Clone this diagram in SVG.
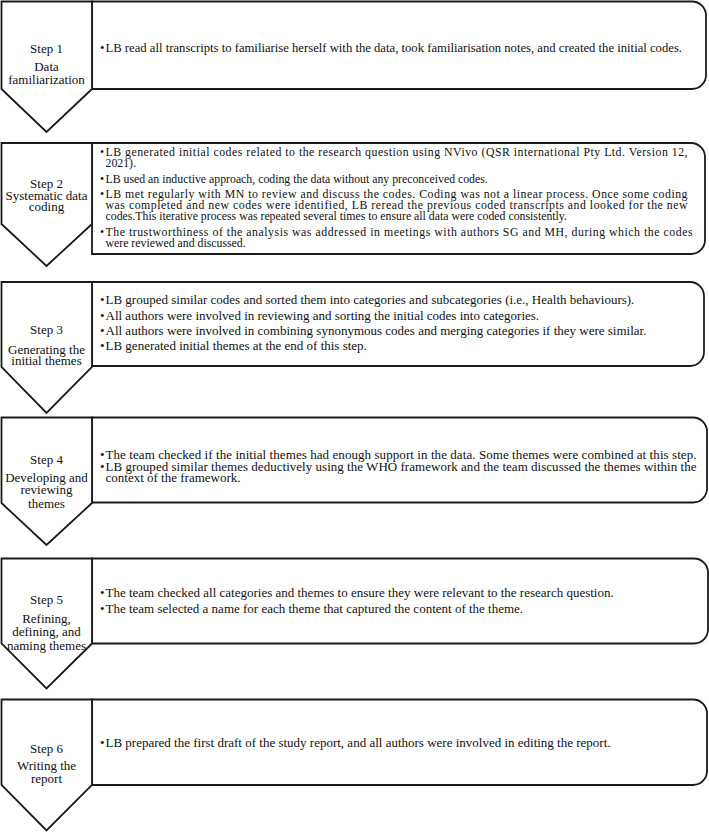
<svg xmlns="http://www.w3.org/2000/svg" width="709" height="832" viewBox="0 0 709 832">
<style>
  .shape { fill: #ffffff; stroke: #1a1a1a; stroke-width: 1.8; stroke-linejoin: miter; }
  .box { fill: #ffffff; stroke: #1a1a1a; stroke-width: 1.8; }
  .lbl { font-family: "Liberation Serif", "Times New Roman", serif; font-size: 13px; fill: #111; text-anchor: middle; }
  .txt { font-family: "Liberation Serif", "Times New Roman", serif; font-size: 13px; fill: #111; }
  .sm { font-size: 11.8px; }
</style>
<rect width="709" height="832" fill="#ffffff"/>
<g id="connectors"></g>

<g id="step1">
  <path class="box" d="M92,1.5 H692 A14,14 0 0 1 706,15.5 V75 A14,14 0 0 1 692,89 H92 Z"/>
  <path class="shape" d="M1.5,1.5 H92 V89 L46.5,132 L1.5,89 Z"/>
  <text class="lbl" x="46.5" y="52.5">Step 1</text>
  <text class="lbl" x="46.5" y="71">Data</text>
  <text class="lbl" x="46.5" y="84">familiarization</text>
  <text class="txt" x="100" y="51.5">•</text>
  <text class="txt" x="105.5" y="51.5" textLength="576.5" lengthAdjust="spacingAndGlyphs">LB read all transcripts to familiarise herself with the data, took familiarisation notes, and created the initial codes.</text>
</g>

<g id="step2">
  <path class="box" d="M92,143 H691 A14,14 0 0 1 705,157 V240 A14,14 0 0 1 691,254 H92 Z"/>
  <path class="shape" d="M1.5,143 H92 V224 L46.5,266 L1.5,224 Z"/>
  <text class="lbl" x="46.5" y="187.5">Step 2</text>
  <text class="lbl" x="46.5" y="199.5">Systematic data</text>
  <text class="lbl" x="46.5" y="210.5">coding</text>
  <text class="txt sm" x="100" y="156.2">•</text>
  <text class="txt sm" x="105.5" y="156.2" textLength="582" lengthAdjust="spacing">LB generated initial codes related to the research question using NVivo (QSR international Pty Ltd. Version 12,</text>
  <text class="txt sm" x="105.5" y="167.2">2021).</text>
  <text class="txt sm" x="100" y="182.7">•</text>
  <text class="txt sm" x="105.5" y="182.7">LB used an inductive approach, coding the data without any preconceived codes.</text>
  <text class="txt sm" x="100" y="198.2">•</text>
  <text class="txt sm" x="105.5" y="198.2" textLength="582" lengthAdjust="spacing">LB met regularly with MN to review and discuss the codes. Coding was not a linear process. Once some coding</text>
  <text class="txt sm" x="105.5" y="209.2" textLength="582" lengthAdjust="spacing">was completed and new codes were identified, LB reread the previous coded transcripts and looked for the new</text>
  <text class="txt sm" x="105.5" y="220.2">codes.This iterative process was repeated several times to ensure all data were coded consistently.</text>
  <text class="txt sm" x="100" y="235.7">•</text>
  <text class="txt sm" x="105.5" y="235.7" textLength="587" lengthAdjust="spacing">The trustworthiness of the analysis was addressed in meetings with authors SG and MH, during which the codes</text>
  <text class="txt sm" x="105.5" y="246.7">were reviewed and discussed.</text>
</g>

<g id="step3">
  <path class="box" d="M92,282 H690 A14,14 0 0 1 704,296 V352 A14,14 0 0 1 690,366 H92 Z"/>
  <path class="shape" d="M1.5,282 H92 V367 L46.5,413 L1.5,367 Z"/>
  <text class="lbl" x="46.5" y="334">Step 3</text>
  <text class="lbl" x="46.5" y="353.5">Generating the</text>
  <text class="lbl" x="46.5" y="365">initial themes</text>
  <text class="txt" x="100" y="304">•</text>
  <text class="txt" x="105.5" y="304">LB grouped similar codes and sorted them into categories and subcategories (i.e., Health behaviours).</text>
  <text class="txt" x="100" y="319.5">•</text>
  <text class="txt" x="105.5" y="319.5">All authors were involved in reviewing and sorting the initial codes into categories.</text>
  <text class="txt" x="100" y="334.5">•</text>
  <text class="txt" x="105.5" y="334.5">All authors were involved in combining synonymous codes and merging categories if they were similar.</text>
  <text class="txt" x="100" y="350">•</text>
  <text class="txt" x="105.5" y="350">LB generated initial themes at the end of this step.</text>
</g>

<g id="step4">
  <path class="box" d="M92,417.5 H693 A14,14 0 0 1 707,431.5 V488.5 A14,14 0 0 1 693,502.5 H92 Z"/>
  <path class="shape" d="M1.5,417.5 H92 V503 L46.5,545 L1.5,503 Z"/>
  <text class="lbl" x="46.5" y="463.5">Step 4</text>
  <text class="lbl" x="46.5" y="481.5">Developing and</text>
  <text class="lbl" x="46.5" y="494">reviewing</text>
  <text class="lbl" x="46.5" y="507.5">themes</text>
  <text class="txt" x="100" y="458.5">•</text>
  <text class="txt" x="105.5" y="458.5" textLength="591" lengthAdjust="spacing">The team checked if the initial themes had enough support in the data. Some themes were combined at this step.</text>
  <text class="txt" x="100" y="471">•</text>
  <text class="txt" x="105.5" y="471" textLength="591" lengthAdjust="spacing">LB grouped similar themes deductively using the WHO framework and the team discussed the themes within the</text>
  <text class="txt" x="105.5" y="481.5">context of the framework.</text>
</g>

<g id="step5">
  <path class="box" d="M92,558.5 H694 A14,14 0 0 1 708,572.5 V629.5 A14,14 0 0 1 694,643.5 H92 Z"/>
  <path class="shape" d="M1.5,558.5 H92 V643.5 L46.5,688.5 L1.5,643.5 Z"/>
  <text class="lbl" x="46.5" y="604">Step 5</text>
  <text class="lbl" x="46.5" y="623">Refining,</text>
  <text class="lbl" x="46.5" y="635.5">defining, and</text>
  <text class="lbl" x="46.5" y="649.5">naming themes</text>
  <text class="txt" x="100" y="597">•</text>
  <text class="txt" x="105.5" y="597">The team checked all categories and themes to ensure they were relevant to the research question.</text>
  <text class="txt" x="100" y="612.5">•</text>
  <text class="txt" x="105.5" y="612.5">The team selected a name for each theme that captured the content of the theme.</text>
</g>

<g id="step6">
  <path class="box" d="M92,699.5 H693 A14,14 0 0 1 707,713.5 V771 A14,14 0 0 1 693,785 H92 Z"/>
  <path class="shape" d="M1.5,699.5 H92 V785 L46.5,830.5 L1.5,785 Z"/>
  <text class="lbl" x="46.5" y="752.5">Step 6</text>
  <text class="lbl" x="46.5" y="770">Writing the</text>
  <text class="lbl" x="46.5" y="783">report</text>
  <text class="txt" x="100" y="747">•</text>
  <text class="txt" x="105.5" y="747">LB prepared the first draft of the study report, and all authors were involved in editing the report.</text>
</g>
</svg>
